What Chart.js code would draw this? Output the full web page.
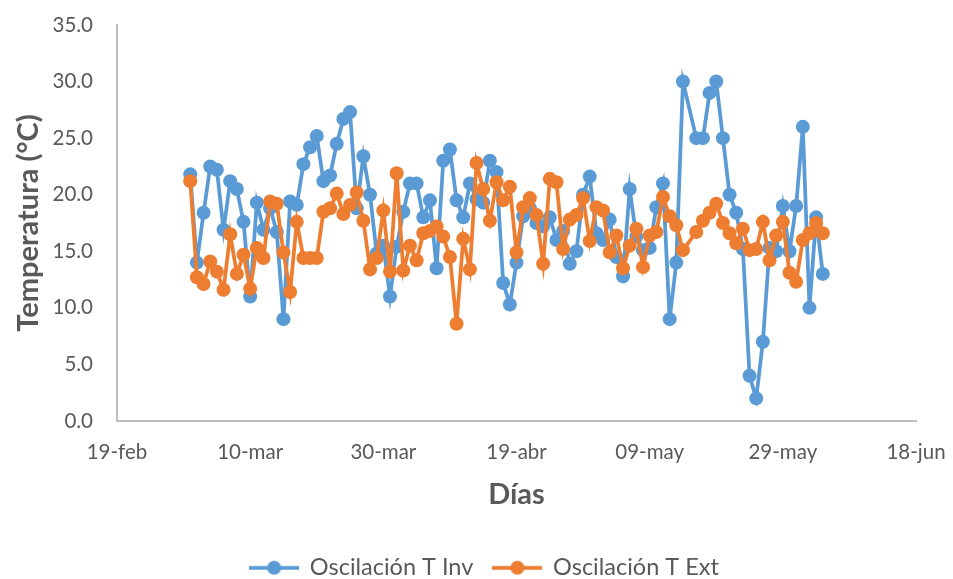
<!DOCTYPE html>
<html>
<head>
<meta charset="utf-8">
<title>Oscilación de temperatura</title>
<script src="https://cdn.jsdelivr.net/npm/chart.js@4/dist/chart.umd.min.js"></script>
<style>
  html, body { margin: 0; padding: 0; background: #ffffff; }
  #grafico { display: block; }
</style>
</head>
<body>
<canvas id="grafico" width="953" height="579"></canvas>
<script>
// Fechas de medición (falta el 15 de mayo)
const fechas = [
  '2020-03-01','2020-03-02','2020-03-03','2020-03-04','2020-03-05','2020-03-06','2020-03-07','2020-03-08',
  '2020-03-09','2020-03-10','2020-03-11','2020-03-12','2020-03-13','2020-03-14','2020-03-15','2020-03-16',
  '2020-03-17','2020-03-18','2020-03-19','2020-03-20','2020-03-21','2020-03-22','2020-03-23','2020-03-24',
  '2020-03-25','2020-03-26','2020-03-27','2020-03-28','2020-03-29','2020-03-30','2020-03-31',
  '2020-04-01','2020-04-02','2020-04-03','2020-04-04','2020-04-05','2020-04-06','2020-04-07','2020-04-08',
  '2020-04-09','2020-04-10','2020-04-11','2020-04-12','2020-04-13','2020-04-14','2020-04-15','2020-04-16',
  '2020-04-17','2020-04-18','2020-04-19','2020-04-20','2020-04-21','2020-04-22','2020-04-23','2020-04-24',
  '2020-04-25','2020-04-26','2020-04-27','2020-04-28','2020-04-29','2020-04-30',
  '2020-05-01','2020-05-02','2020-05-03','2020-05-04','2020-05-05','2020-05-06','2020-05-07','2020-05-08',
  '2020-05-09','2020-05-10','2020-05-11','2020-05-12','2020-05-13','2020-05-14',
  '2020-05-16','2020-05-17','2020-05-18','2020-05-19','2020-05-20','2020-05-21','2020-05-22','2020-05-23',
  '2020-05-24','2020-05-25','2020-05-26','2020-05-27','2020-05-28','2020-05-29','2020-05-30','2020-05-31',
  '2020-06-01','2020-06-02','2020-06-03','2020-06-04'
];

// Oscilación diaria de temperatura en el interior (°C)
const oscilacionInv = [
  21.8, 14.0, 18.4, 22.5, 22.2, 16.9, 21.2, 20.5, 17.6, 11.0, 19.3, 16.9, 18.8, 16.7, 9.0, 19.4,
  19.1, 22.7, 24.2, 25.2, 21.2, 21.7, 24.5, 26.7, 27.3, 18.8, 23.4, 20.0, 14.8, 15.5, 11.0,
  15.4, 18.5, 21.0, 21.0, 18.0, 19.5, 13.5, 23.0, 24.0, 19.5, 18.0, 21.0, 19.6, 19.3, 23.0, 22.0,
  12.2, 10.3, 14.0, 18.1, 18.8, 17.5, 17.2, 18.0, 16.0, 16.8, 13.9, 15.0, 20.0, 21.6,
  16.6, 16.0, 17.8, 14.5, 12.8, 20.5, 16.3, 15.1, 15.3, 18.9, 21.0, 9.0, 14.0, 30.0,
  25.0, 25.0, 29.0, 30.0, 25.0, 20.0, 18.4, 15.2, 4.0, 2.0, 7.0, 15.3, 15.0, 19.0, 15.0, 19.0,
  26.0, 10.0, 18.0, 13.0
];

// Oscilación diaria de temperatura en el exterior (°C)
const oscilacionExt = [
  21.2, 12.7, 12.1, 14.1, 13.2, 11.6, 16.5, 13.0, 14.7, 11.7, 15.3, 14.4, 19.4, 19.2, 14.9, 11.4,
  17.6, 14.4, 14.4, 14.4, 18.5, 18.8, 20.1, 18.3, 19.1, 20.2, 17.7, 13.4, 14.4, 18.6, 13.2,
  21.9, 13.3, 15.5, 14.2, 16.6, 16.8, 17.2, 16.3, 14.5, 8.6, 16.1, 13.4, 22.8, 20.5, 17.7, 21.1,
  19.5, 20.7, 14.9, 18.9, 19.7, 18.2, 13.9, 21.4, 21.1, 15.2, 17.8, 18.2, 19.7, 15.9,
  18.9, 18.6, 14.9, 16.4, 13.5, 15.5, 17.0, 13.6, 16.4, 16.7, 19.8, 18.1, 17.3, 15.1,
  16.7, 17.7, 18.4, 19.2, 17.5, 16.6, 15.7, 17.0, 15.1, 15.2, 17.6, 14.2, 16.4, 17.6, 13.1, 12.3,
  16.0, 16.6, 17.5, 16.6
];

const nombresSeries = ['Oscilación T Inv', 'Oscilación T Ext'];
const coloresSeries = ['#5B9BD5', '#ED7D31'];

// Eje de fechas: del 19-feb al 18-jun, marcas cada 20 días
const ejeInicio = '2020-02-19';
const ejeFin = '2020-06-18';
const pasoDias = 20;
const mesesCortos = ['ene','feb','mar','abr','may','jun','jul','ago','sep','oct','nov','dic'];

// Eje de temperatura
const ejeTemp = { min: 0, max: 35, paso: 5 };

const DIA_MS = 86400000;
const utc = s => { const [a, m, d] = s.split('-').map(Number); return Date.UTC(a, m - 1, d); };
const base = utc(ejeInicio);
const diaDesdeInicio = s => Math.round((utc(s) - base) / DIA_MS);
const etiquetaFecha = n => {
  const f = new Date(base + n * DIA_MS);
  return String(f.getUTCDate()).padStart(2, '0') + '-' + mesesCortos[f.getUTCMonth()];
};

const puntos = valores => fechas.map((f, i) => ({ x: diaDesdeInicio(f), y: valores[i] }));

// Muestra de leyenda: segmento de línea con marcador circular
function muestraLeyenda(color) {
  const c = document.createElement('canvas');
  c.width = 50; c.height = 16;
  const g = c.getContext('2d');
  g.strokeStyle = color; g.lineWidth = 3.75;
  g.beginPath(); g.moveTo(0, 8); g.lineTo(50, 8); g.stroke();
  g.fillStyle = color;
  g.beginPath(); g.arc(25, 8, 7, 0, Math.PI * 2); g.fill();
  return c;
}
const muestras = coloresSeries.map(muestraLeyenda);

const GRIS_TEXTO = '#595959';
const GRIS_EJE = '#BFBFBF';
const FUENTE = 'Lato, "Open Sans", sans-serif';

// Márgenes del área de trazado
const MARGEN_SUP = 25;
const MARGEN_DER = 37;

// Corrimiento horizontal de la leyenda respecto al centro del lienzo
const desplazarLeyenda = {
  id: 'desplazarLeyenda',
  afterLayout(chart) {
    chart.legend.left += 8;
    chart.legend.right += 8;
  }
};

const serie = (i, valores, orden) => ({
  label: nombresSeries[i],
  data: puntos(valores),
  borderColor: coloresSeries[i],
  backgroundColor: coloresSeries[i],
  pointBackgroundColor: coloresSeries[i],
  pointBorderColor: coloresSeries[i],
  borderWidth: 3.75,
  pointRadius: 7,
  pointBorderWidth: 0,
  tension: 0,
  order: orden
});

new Chart(document.getElementById('grafico'), {
  type: 'line',
  data: {
    datasets: [
      serie(0, oscilacionInv, 1),
      serie(1, oscilacionExt, 0)
    ]
  },
  plugins: [desplazarLeyenda],
  options: {
    responsive: false,
    animation: false,
    events: [],
    layout: { padding: { left: 0, right: 0, top: MARGEN_SUP, bottom: 0 } },
    plugins: {
      tooltip: { enabled: false },
      legend: {
        position: 'bottom',
        maxHeight: 43,
        labels: {
          usePointStyle: true,
          pointStyleWidth: 48,
          padding: 20,
          color: GRIS_TEXTO,
          font: { family: FUENTE, size: 23.5 },
          sort: (a, b) => a.datasetIndex - b.datasetIndex,
          generateLabels: chart => Chart.defaults.plugins.legend.labels.generateLabels(chart)
            .map(item => Object.assign(item, { pointStyle: muestras[item.datasetIndex] }))
        }
      }
    },
    scales: {
      x: {
        type: 'linear',
        min: 0,
        max: diaDesdeInicio(ejeFin),
        afterFit: s => { s.height = 115; s.paddingLeft = 0; s.paddingRight = MARGEN_DER; },
        grid: { display: false, drawTicks: false },
        border: { display: true, color: GRIS_EJE, width: 2 },
        ticks: {
          stepSize: pasoDias,
          autoSkip: false,
          maxRotation: 0,
          padding: 19,
          color: GRIS_TEXTO,
          font: { family: FUENTE, size: 20.5 },
          callback: v => etiquetaFecha(v)
        },
        title: {
          display: true,
          text: 'Días',
          color: GRIS_TEXTO,
          font: { family: FUENTE, size: 29, weight: 'bold' },
          padding: { top: 0, bottom: 24 }
        }
      },
      y: {
        min: ejeTemp.min,
        max: ejeTemp.max,
        afterFit: s => { s.width = 117; s.paddingTop = 0; s.paddingBottom = 0; },
        grid: { display: false, drawTicks: false },
        border: { display: true, color: GRIS_EJE, width: 2 },
        ticks: {
          stepSize: ejeTemp.paso,
          padding: 24,
          color: GRIS_TEXTO,
          font: { family: FUENTE, size: 20.5 },
          callback: v => v.toFixed(1)
        },
        title: {
          display: true,
          text: 'Temperatura (°C)',
          color: GRIS_TEXTO,
          font: { family: FUENTE, size: 29, weight: 'bold' },
          padding: { top: 11, bottom: 0 }
        }
      }
    }
  }
});
</script>
</body>
</html>
